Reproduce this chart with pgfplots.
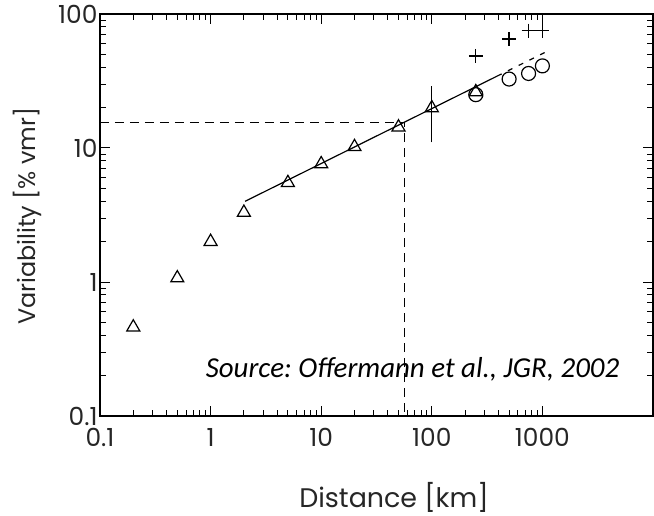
\documentclass[border=0pt]{standalone}
\usepackage{fontspec}
\setmainfont{Poppins}
\newfontfamily\srcfont{Carlito}
\usepackage{pgfplots}
\pgfplotsset{compat=1.18}
\frenchspacing
\begin{document}
\begin{tikzpicture}
\begin{axis}[
  scale only axis,
  width=553bp, height=402bp,
  xmode=log, ymode=log,
  xmin=0.1, xmax=10000, ymin=0.1, ymax=100,
  xtick={0.1,1,10,100,1000}, xticklabels={0.1,1,10,100,1000},
  ytick={0.1,1,10,100}, yticklabels={0.1,1,10,100},
  tick label style={font=\fontsize{25}{27}\selectfont, text=black!85},
  yticklabel style={xshift=1bp},
  xticklabel style={yshift=-9bp},
  axis line style={line width=1.5bp},
  major tick length=10bp, minor tick length=6bp,
  every tick/.style={black, line width=1bp},
  tick align=inside,
  xlabel={Distance [km]},
  ylabel={Variability [\% vmr]},
  xlabel style={at={(axis description cs:0.5316,-0.2015)}, anchor=center, font=\fontsize{27}{29}\selectfont, text=black!85},
  ylabel style={at={(axis description cs:-0.132,0.497)}, anchor=center, font=\fontsize{24}{26}\selectfont, text=black!85},
  clip=false,
]
% reference dashed lines
\addplot[black, line width=1.2bp, dash pattern=on 9bp off 6bp] coordinates {(0.1,15.4) (57,15.4) (57,0.1)};
% fit line
\addplot[black, line width=1.2bp] coordinates {(2.05,4.0) (390,34.4)};
\addplot[black, line width=1.2bp, dash pattern=on 5bp off 7bp] coordinates {(390,34.4) (1170,53.9)};
% error bar
\addplot[black, line width=1.2bp] coordinates {(100,11) (100,29)};
% triangles
\addplot[only marks, mark=triangle, mark size=7.5bp, mark options={black, line width=1.2bp, fill=none}] coordinates {
(0.2,0.46) (0.5,1.07) (1,2.0) (2,3.3) (5,5.5) (10,7.6) (20,10.2) (50,14.3) (100,19.9) (250,26.2)};
% circles
\addplot[only marks, mark=o, mark size=7bp, mark options={black, line width=1.2bp}] coordinates {
(250,25) (500,32.7) (750,36) (1000,41)};
% plus
\addplot[only marks, mark=+, mark size=7bp, mark options={black, line width=1.3bp}] coordinates {
(250,48.6) (500,65) (750,75) (1000,75)};
\node[anchor=base, font=\srcfont\itshape\fontsize{29}{31}\selectfont] at (axis cs:0.1,0.1) [xshift=312.5bp, yshift=39bp] {Source: Offermann et al., JGR, 2002};
\end{axis}
\path[use as bounding box] (-100bp,-94bp) rectangle (554bp,416bp);
\end{tikzpicture}
\end{document}
